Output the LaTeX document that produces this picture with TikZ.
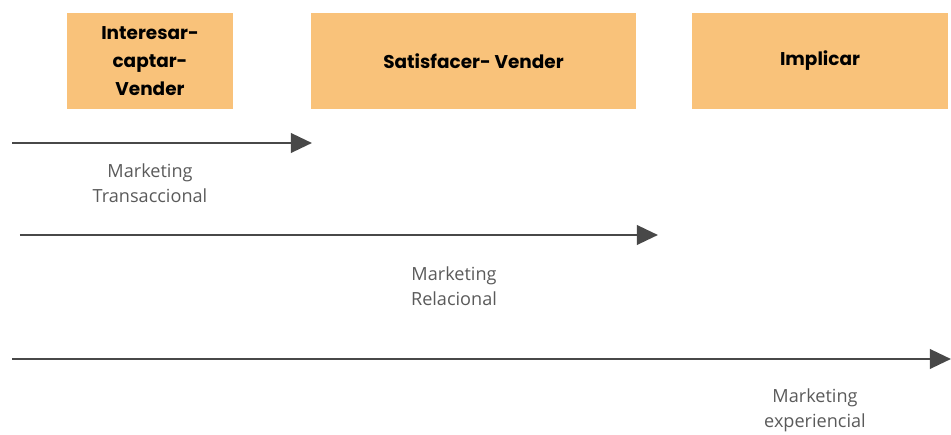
\documentclass[tikz,border=0pt]{standalone}
\usepackage{fontspec}
\setmainfont{Open Sans}
\newfontfamily\boxfont{Poppins}
\usetikzlibrary{arrows.meta}
\definecolor{stagefill}{HTML}{F9C27A}
\definecolor{arrowgray}{HTML}{484848}
\definecolor{labelgray}{HTML}{5A5A5A}
\begin{document}
\begin{tikzpicture}[
    stagebox/.style = {fill=stagefill, inner sep=0pt, align=center,
      font=\boxfont\bfseries\fontsize{10.5}{16}\selectfont},
    era/.style = {draw=arrowgray, line width=1.6pt,
      -{Triangle[length=12pt, width=11pt]}},
    eralabel/.style = {align=center, text=labelgray,
      font=\fontsize{10.3}{14.2}\selectfont}
  ]
    \useasboundingbox (0, 0) rectangle (19.02, -8.7);

    \node[stagebox, minimum width=3.32cm, minimum height=1.92cm] (b1) at (3.0, -1.22) {Interesar-\\captar-\\Vender};
    \node[stagebox, minimum width=6.5cm, minimum height=1.92cm] (b2) at (9.47, -1.22) {Satisfacer- Vender};
    \node[stagebox, minimum width=5.12cm, minimum height=1.92cm] (b3) at (16.4, -1.22) {Implicar};

    \coordinate (a1s) at (0.24, -2.86);
    \coordinate (a1e) at (6.24, -2.86);
    \coordinate (a2s) at (0.4, -4.7);
    \coordinate (a2e) at (13.16, -4.7);
    \coordinate (a3s) at (0.24, -7.18);
    \coordinate (a3e) at (19.02, -7.18);

    \draw[era] (a1s) -- (a1e);
    \draw[era] (a2s) -- (a2e);
    \draw[era] (a3s) -- (a3e);

    \node[eralabel] (l1) at (3.0, -3.67) {Marketing\\Transaccional};
    \node[eralabel] (l2) at (9.08, -5.73) {Marketing\\Relacional};
    \node[eralabel] (l3) at (16.3, -8.2) {Marketing\\experiencial};
  \end{tikzpicture}
\end{document}
